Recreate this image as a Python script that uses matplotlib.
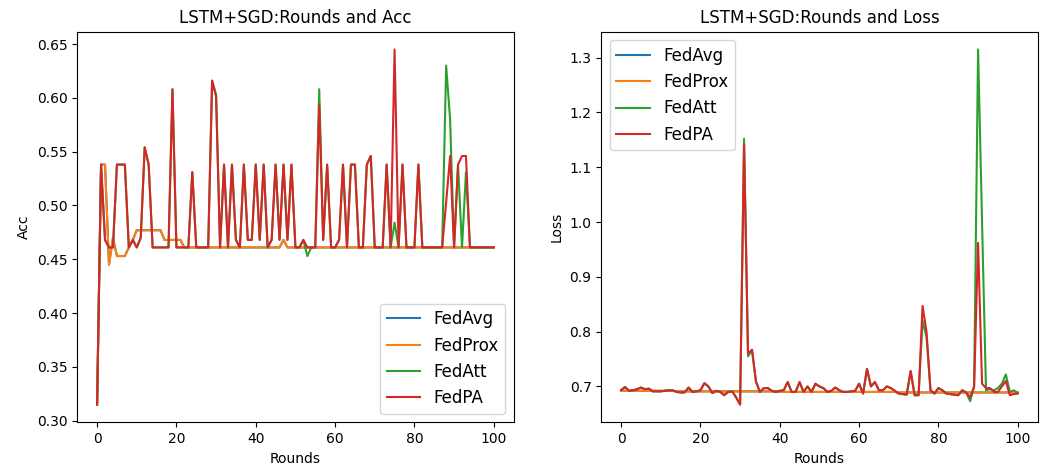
import numpy as np
import matplotlib
matplotlib.use('Agg')
import matplotlib.pyplot as plt

rounds = np.arange(101)
labels = ['FedAvg', 'FedProx', 'FedAtt', 'FedPA']

# accuracy per round
acc_fedprox = [0.315, 0.538, 0.538, 0.445, 0.470, 0.453, 0.453, 0.453, 0.461, 0.468,
               0.477, 0.477, 0.477, 0.477, 0.477, 0.477, 0.477, 0.468, 0.468, 0.468,
               0.468, 0.468, 0.461, 0.461, 0.461, 0.461, 0.461, 0.461, 0.461, 0.461,
               0.461, 0.461, 0.461, 0.461, 0.461, 0.461, 0.461, 0.461, 0.461, 0.461,
               0.461, 0.461, 0.461, 0.461, 0.461, 0.461, 0.461, 0.468, 0.461, 0.461,
               0.461, 0.461, 0.461, 0.461, 0.461, 0.461, 0.461, 0.461, 0.461, 0.461,
               0.461, 0.461, 0.461, 0.461, 0.461, 0.461, 0.461, 0.461, 0.461, 0.461,
               0.461, 0.461, 0.461, 0.461, 0.461, 0.461, 0.461, 0.461, 0.461, 0.461,
               0.461, 0.461, 0.461, 0.461, 0.461, 0.461, 0.461, 0.461, 0.461, 0.461,
               0.461, 0.461, 0.461, 0.461, 0.461, 0.461, 0.461, 0.461, 0.461, 0.461,
               0.461]
acc_fedavg = list(acc_fedprox)
acc_fedpa = [0.315, 0.538, 0.468, 0.461, 0.461, 0.538, 0.538, 0.538, 0.461, 0.468,
             0.461, 0.470, 0.554, 0.538, 0.461, 0.461, 0.461, 0.461, 0.461, 0.608,
             0.461, 0.461, 0.461, 0.461, 0.531, 0.461, 0.461, 0.461, 0.461, 0.616,
             0.601, 0.461, 0.538, 0.461, 0.538, 0.468, 0.461, 0.538, 0.468, 0.468,
             0.538, 0.468, 0.538, 0.461, 0.468, 0.538, 0.468, 0.538, 0.468, 0.538,
             0.461, 0.461, 0.468, 0.461, 0.461, 0.461, 0.593, 0.468, 0.538, 0.461,
             0.461, 0.468, 0.538, 0.461, 0.538, 0.538, 0.461, 0.461, 0.538, 0.546,
             0.461, 0.461, 0.461, 0.538, 0.461, 0.645, 0.461, 0.538, 0.461, 0.461,
             0.461, 0.538, 0.461, 0.461, 0.461, 0.461, 0.461, 0.461, 0.503, 0.546,
             0.461, 0.538, 0.546, 0.546, 0.461, 0.461, 0.461, 0.461, 0.461, 0.461,
             0.461]
acc_fedatt = [0.315, 0.538, 0.468, 0.461, 0.461, 0.538, 0.538, 0.538, 0.461, 0.468,
              0.461, 0.470, 0.554, 0.538, 0.461, 0.461, 0.461, 0.461, 0.461, 0.608,
              0.461, 0.461, 0.461, 0.461, 0.531, 0.461, 0.461, 0.461, 0.461, 0.616,
              0.603, 0.461, 0.538, 0.461, 0.538, 0.468, 0.461, 0.538, 0.468, 0.468,
              0.538, 0.468, 0.538, 0.461, 0.468, 0.538, 0.468, 0.538, 0.468, 0.538,
              0.461, 0.461, 0.468, 0.453, 0.461, 0.461, 0.608, 0.468, 0.538, 0.461,
              0.461, 0.468, 0.538, 0.461, 0.538, 0.538, 0.461, 0.461, 0.538, 0.546,
              0.461, 0.461, 0.461, 0.538, 0.461, 0.484, 0.461, 0.538, 0.461, 0.461,
              0.461, 0.538, 0.461, 0.461, 0.461, 0.461, 0.461, 0.461, 0.630, 0.580,
              0.461, 0.538, 0.461, 0.531, 0.461, 0.461, 0.461, 0.461, 0.461, 0.461,
              0.461]

# loss per round
loss_fedprox = [0.693, 0.692, 0.692, 0.692, 0.692, 0.692, 0.692, 0.692, 0.692, 0.692,
                0.692, 0.692, 0.692, 0.692, 0.691, 0.691, 0.691, 0.691, 0.691, 0.691,
                0.691, 0.691, 0.691, 0.691, 0.691, 0.691, 0.691, 0.691, 0.691, 0.691,
                0.691, 0.691, 0.691, 0.691, 0.691, 0.691, 0.691, 0.691, 0.691, 0.691,
                0.690, 0.690, 0.690, 0.690, 0.690, 0.690, 0.690, 0.690, 0.690, 0.690,
                0.690, 0.690, 0.690, 0.690, 0.690, 0.690, 0.690, 0.690, 0.690, 0.690,
                0.690, 0.690, 0.690, 0.690, 0.690, 0.690, 0.690, 0.690, 0.690, 0.690,
                0.689, 0.689, 0.689, 0.689, 0.689, 0.689, 0.689, 0.689, 0.689, 0.689,
                0.689, 0.689, 0.689, 0.689, 0.689, 0.689, 0.689, 0.689, 0.689, 0.689,
                0.689, 0.689, 0.689, 0.689, 0.689, 0.689, 0.689, 0.689, 0.689, 0.689,
                0.689]
loss_fedavg = list(loss_fedprox)
loss_fedpa = [0.693, 0.699, 0.692, 0.693, 0.695, 0.698, 0.695, 0.696, 0.691, 0.691,
              0.691, 0.692, 0.693, 0.693, 0.690, 0.689, 0.689, 0.698, 0.690, 0.691,
              0.693, 0.706, 0.700, 0.688, 0.692, 0.690, 0.684, 0.690, 0.691, 0.680,
              0.667, 1.141, 0.760, 0.767, 0.709, 0.690, 0.697, 0.697, 0.692, 0.690,
              0.692, 0.693, 0.708, 0.690, 0.690, 0.708, 0.690, 0.700, 0.690, 0.705,
              0.700, 0.697, 0.690, 0.692, 0.698, 0.693, 0.690, 0.690, 0.691, 0.692,
              0.705, 0.687, 0.732, 0.700, 0.708, 0.693, 0.693, 0.700, 0.697, 0.692,
              0.687, 0.686, 0.685, 0.728, 0.684, 0.684, 0.847, 0.800, 0.693, 0.687,
              0.697, 0.693, 0.687, 0.686, 0.685, 0.684, 0.693, 0.689, 0.680, 0.700,
              0.962, 0.705, 0.697, 0.697, 0.690, 0.690, 0.700, 0.710, 0.684, 0.686,
              0.687]
loss_fedatt = [0.693, 0.699, 0.692, 0.693, 0.695, 0.698, 0.695, 0.696, 0.691, 0.691,
               0.691, 0.692, 0.693, 0.693, 0.690, 0.689, 0.689, 0.698, 0.690, 0.691,
               0.693, 0.706, 0.700, 0.688, 0.692, 0.690, 0.684, 0.690, 0.691, 0.680,
               0.667, 1.152, 0.755, 0.767, 0.709, 0.690, 0.697, 0.697, 0.692, 0.690,
               0.692, 0.693, 0.708, 0.690, 0.690, 0.708, 0.690, 0.700, 0.690, 0.705,
               0.700, 0.697, 0.690, 0.692, 0.698, 0.693, 0.690, 0.690, 0.691, 0.692,
               0.705, 0.687, 0.732, 0.700, 0.708, 0.693, 0.693, 0.700, 0.697, 0.692,
               0.687, 0.686, 0.685, 0.728, 0.684, 0.684, 0.820, 0.790, 0.693, 0.687,
               0.697, 0.693, 0.687, 0.686, 0.685, 0.684, 0.693, 0.689, 0.673, 0.700,
               1.315, 1.000, 0.693, 0.695, 0.693, 0.697, 0.705, 0.722, 0.690, 0.693,
               0.688]

acc_series = [acc_fedavg, acc_fedprox, acc_fedatt, acc_fedpa]
loss_series = [loss_fedavg, loss_fedprox, loss_fedatt, loss_fedpa]

fig, (ax1, ax2) = plt.subplots(1, 2, figsize=(10.47, 4.69), dpi=100)
fig.subplots_adjust(left=0.0738, right=0.991, bottom=0.0996, top=0.9324, wspace=0.201)

for s, lab in zip(acc_series, labels):
    ax1.plot(rounds, s, label=lab)
ax1.set_title('LSTM+SGD:Rounds and Acc')
ax1.set_xlabel('Rounds')
ax1.set_ylabel('Acc')
ax1.legend(loc='lower right', fontsize=12)

for s, lab in zip(loss_series, labels):
    ax2.plot(rounds, s, label=lab)
ax2.set_title('LSTM+SGD:Rounds and Loss')
ax2.set_xlabel('Rounds')
ax2.set_ylabel('Loss')
ax2.legend(loc='upper left', fontsize=12)

plt.savefig('out.png')
